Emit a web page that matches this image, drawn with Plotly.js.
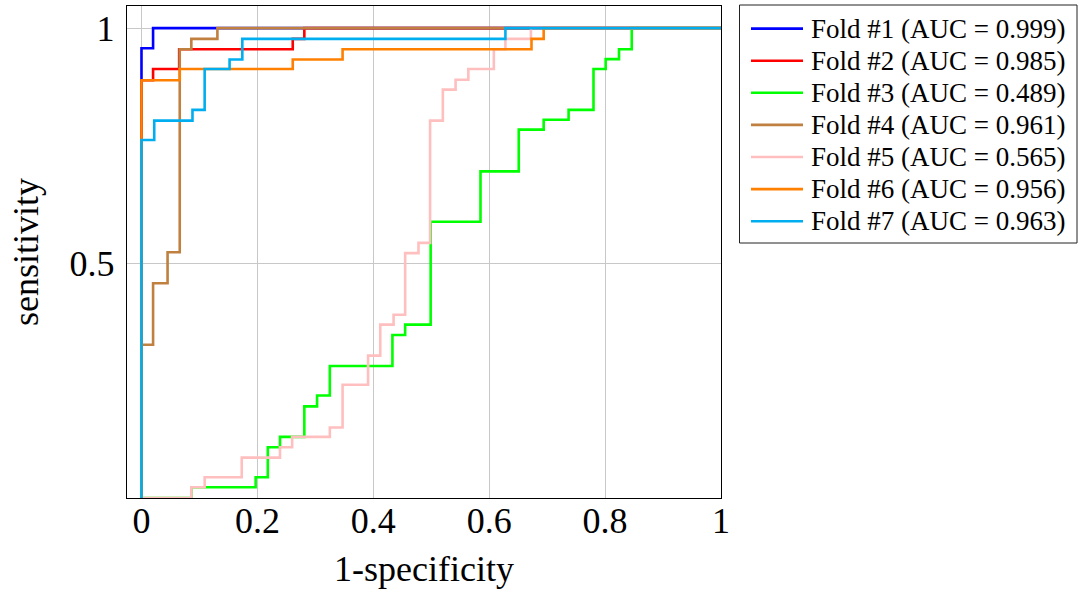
<!DOCTYPE html>
<html>
<head>
<meta charset="utf-8">
<script src="https://cdn.plot.ly/plotly-3.0.1.min.js"></script>
<style>
  html, body { margin: 0; padding: 0; background: #fff; }
  #roc { width: 1084px; height: 594px; }
</style>
</head>
<body>
<div id="roc"></div>
<script>
// ROC step points per fold (1-specificity, sensitivity)
const fold1X = [0, 0, 0.02, 1];
const fold1Y = [0, 0.957, 1, 1];

const fold2X = [0, 0, 0.02, 0.065, 0.261, 0.281, 1];
const fold2Y = [0, 0.889, 0.913, 0.955, 0.977, 1, 1];

const fold3X = [0, 0.086, 0.197, 0.218, 0.239, 0.281, 0.303, 0.325, 0.433, 0.455, 0.499,
  0.585, 0.651, 0.694, 0.737, 0.78, 0.801, 0.824, 0.846, 1];
const fold3Y = [0, 0.023, 0.044, 0.108, 0.130, 0.195, 0.218, 0.281, 0.347, 0.369, 0.588,
  0.695, 0.784, 0.805, 0.826, 0.913, 0.934, 0.955, 1, 1];

const fold4X = [0, 0, 0.02, 0.045, 0.066, 0.086, 0.131, 1];
const fold4Y = [0, 0.326, 0.457, 0.523, 0.955, 0.977, 1, 1];

const fold5X = [0, 0.086, 0.109, 0.173, 0.239, 0.26, 0.325, 0.347, 0.391, 0.412, 0.435,
  0.455, 0.478, 0.498, 0.52, 0.542, 0.564, 0.608, 0.628, 0.672, 1];
const fold5Y = [0, 0.023, 0.044, 0.086, 0.108, 0.130, 0.150, 0.241, 0.303, 0.369, 0.39,
  0.521, 0.543, 0.803, 0.869, 0.89, 0.913, 0.955, 0.977, 1, 1];

const fold6X = [0, 0, 0.066, 0.261, 0.347, 0.673, 0.694, 1];
const fold6Y = [0, 0.889, 0.913, 0.933, 0.955, 0.977, 1, 1];

const fold7X = [0, 0, 0.022, 0.088, 0.109, 0.152, 0.174, 0.628, 1];
const fold7Y = [0, 0.762, 0.803, 0.826, 0.913, 0.933, 0.977, 1, 1];

const foldNames = [
  'Fold #1 (AUC = 0.999)', 'Fold #2 (AUC = 0.985)', 'Fold #3 (AUC = 0.489)',
  'Fold #4 (AUC = 0.961)', 'Fold #5 (AUC = 0.565)', 'Fold #6 (AUC = 0.956)',
  'Fold #7 (AUC = 0.963)'
];
const foldColors = ['#0000ff', '#ff0000', '#00ff00', '#bf8040', '#ffbfbf', '#ff8000', '#00aeef'];

const xTicks = [0, 0.2, 0.4, 0.6, 0.8, 1];
const xTickText = ['0', '0.2', '0.4', '0.6', '0.8', '1'];
const yTicks = [0.5, 1];
const yTickText = ['0.5', '1'];

const serif = 'Liberation Serif, Times New Roman, serif';

const xs = [fold1X, fold2X, fold3X, fold4X, fold5X, fold6X, fold7X];
const ys = [fold1Y, fold2Y, fold3Y, fold4Y, fold5Y, fold6Y, fold7Y];

const traces = xs.map((x, i) => ({
  x: x,
  y: ys[i],
  name: foldNames[i],
  type: 'scatter',
  mode: 'lines',
  line: { color: foldColors[i], width: 2.6, shape: 'hv' },
  hoverinfo: 'skip',
  showlegend: false
}));

// pgfplots-style legend box drawn beside the axes (paper coords)
const plotL = 127, plotW = 594, plotB = 498, plotH = 492;
const px2x = px => (px - plotL) / plotW;
const px2y = py => (plotB - py) / plotH;
const rowY = i => px2y(28.6 + 32.1 * i);

const shapes = [{
  type: 'rect', xref: 'paper', yref: 'paper',
  x0: px2x(739.5), x1: px2x(1077), y0: px2y(243), y1: px2y(5),
  line: { color: '#222', width: 1 }, fillcolor: '#fff', layer: 'above'
}];
const annotations = [];
foldNames.forEach((name, i) => {
  shapes.push({
    type: 'line', xref: 'paper', yref: 'paper',
    x0: px2x(751), x1: px2x(803), y0: rowY(i), y1: rowY(i),
    line: { color: foldColors[i], width: 2.6 }, layer: 'above'
  });
  annotations.push({
    xref: 'paper', yref: 'paper', x: px2x(809), y: rowY(i),
    xanchor: 'left', yanchor: 'middle', showarrow: false,
    text: name, font: { family: serif, size: 27, color: '#000' }
  });
});

const layout = {
  width: 1084,
  height: 594,
  paper_bgcolor: '#fff',
  plot_bgcolor: '#fff',
  font: { family: serif, color: '#000', size: 36 },
  margin: { l: plotL, r: 1084 - plotL - plotW, t: plotB - plotH, b: 594 - plotB, pad: 0 },
  showlegend: false,
  shapes: shapes,
  annotations: annotations,
  xaxis: {
    range: [-0.025, 1],
    tickvals: xTicks, ticktext: xTickText,
    ticks: '', ticklabelstandoff: -10,
    showgrid: true, gridcolor: '#c8c8c8', gridwidth: 1,
    zeroline: false,
    showline: true, mirror: true, linecolor: '#000', linewidth: 1.3,
    title: { text: '1-specificity', font: { family: serif, size: 36 }, standoff: 16 }
  },
  yaxis: {
    range: [0, 1.047],
    tickvals: yTicks, ticktext: yTickText,
    ticks: '', ticklabelstandoff: 4,
    showgrid: true, gridcolor: '#c8c8c8', gridwidth: 1,
    zeroline: false,
    showline: true, mirror: true, linecolor: '#000', linewidth: 1.3,
    title: { text: 'sensitivity', font: { family: serif, size: 36 }, standoff: 20 }
  }
};

Plotly.newPlot('roc', traces, layout, { displayModeBar: false, staticPlot: true });
</script>
</body>
</html>
